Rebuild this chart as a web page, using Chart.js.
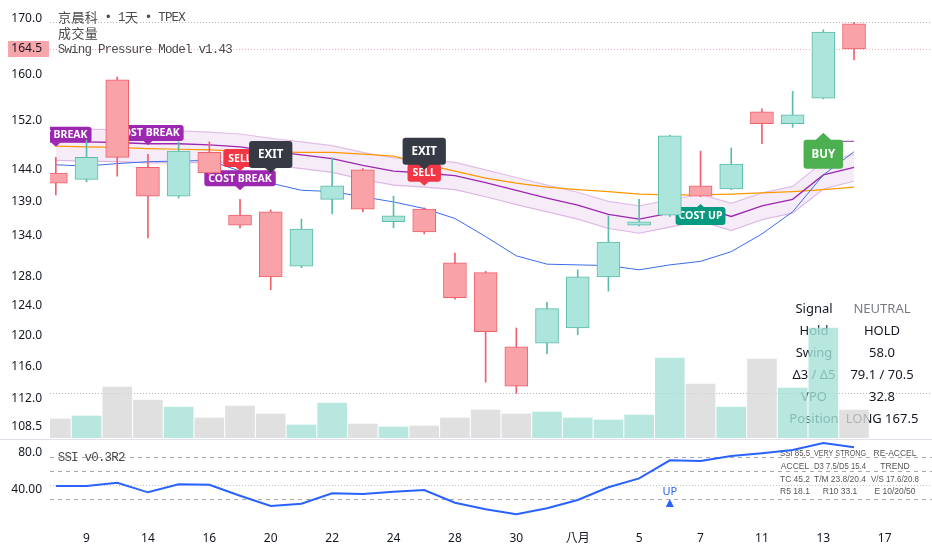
<!DOCTYPE html>
<html>
<head>
<meta charset="utf-8">
<title>京晨科 Swing Pressure Model</title>
<script src="https://cdn.jsdelivr.net/npm/chart.js@4.4.1/dist/chart.umd.min.js"></script>
<style>
html,body{margin:0;padding:0;background:#fff}
#wrap{position:relative;width:932px;height:550px;overflow:hidden;background:#fff}
canvas{position:absolute;left:0}
#main{top:0}
#ssi{top:440px}
</style>
</head>
<body>
<div id="wrap">
<canvas id="main" width="932" height="440"></canvas>
<canvas id="ssi" width="932" height="110"></canvas>
</div>
<script>

// daily candles, one per slot
let opens=[143.5,142.5,159.0,144.4,139.9,146.8,137.0,137.5,129.5,139.4,144.0,136.0,137.9,130.0,128.6,118.5,119.0,121.0,128.0,135.5,137.0,141.5,141.0,153.5,151.5,155.8,169.1]
let highs=[146.0,148.8,159.5,146.5,148.5,148.5,139.4,137.8,136.4,145.9,144.2,139.9,138.1,131.4,128.8,121.0,124.5,129.0,136.9,139.4,149.6,147.0,147.5,154.0,157.0,168.0,169.4]
let lows=[140.1,142.1,143.0,133.6,139.6,143.2,135.1,126.2,129.3,137.2,137.5,135.1,134.2,124.9,114.0,112.6,117.6,120.1,126.0,135.4,136.8,139.8,140.9,148.2,150.9,155.7,162.5]
let closes=[141.9,146.0,146.0,139.9,147.0,143.5,135.5,128.0,134.9,141.5,137.9,136.9,134.5,125.1,120.5,113.5,123.6,128.0,133.0,136.0,149.5,139.9,144.9,151.5,153.0,167.6,164.5]
let volumes=[1900,2200,5100,3800,3100,2000,3200,2400,1300,3500,1400,1100,1200,2000,2800,2400,2600,2000,1800,2300,8000,5400,3100,7900,5000,11000,2800]

// indicator lines
let costLine=[147.8,147.7,147.6,147.4,147.3,147.2,147.0,146.9,146.8,146.8,146.5,146.2,144.9,143.8,142.7,141.9,141.3,140.9,140.6,140.2,140.1,140.1,140.2,140.4,140.6,140.9,141.3]
let midLine=[148.6,148.5,148.4,148.2,148.2,148.0,147.7,147.0,146.4,145.8,144.7,143.8,143.5,143.1,142.0,140.8,139.6,138.5,137.1,136.4,137.3,138.2,136.8,138.4,139.4,143.2,144.4]
let bandUpper=[150.7,150.6,150.5,150.3,150.3,150.1,149.8,149.1,148.5,147.9,146.8,145.9,145.6,145.2,144.0,142.8,141.6,140.5,139.1,138.4,139.3,140.2,138.8,140.4,141.4,145.3,146.5]
let bandLower=[145.5,145.4,145.3,145.1,145.1,145.2,145.2,144.8,144.2,143.6,142.5,141.6,141.3,140.9,139.8,138.6,137.5,136.4,135.0,134.3,135.2,136.1,134.7,136.3,137.3,141.0,142.2]
let trendLine=[144.8,144.6,145.0,145.3,145.4,145.5,143.8,141.9,140.8,140.6,139.8,139.0,138.0,136.5,133.8,131.0,129.8,129.7,129.6,129.0,129.7,130.2,131.6,134.2,137.5,143.2,146.9]
let stopIdx=[25,26]
let stopLine=[148.6,148.6]

let ssi=[43.9,43.9,47.4,37.1,45.7,45.3,33.5,22.4,24.9,36.1,35.3,37.8,39.6,26.0,18.9,13.5,20.0,28.9,42.5,52.1,71.4,70.7,76.0,78.9,82.5,90.0,85.5]

// axes
let tickIdx=[1,3,5,7,9,11,13,15,17,19,21,23,25,27]
let tickText=['9','14','16','20','22','24','28','30','八月','5','7','11','13','17']
let priceTicks=[170,160,152,144,139,134,128,124,120,116,112,108.5]
let refLines=[169.5,112.6]
let lastPrice=164.5
let ssiTicks=[80,40]
let ssiTickText=['80.0','40.00']
let ssiLevels=[75,60,45,30]

// signal labels
let sigIdx=[0,3,6,6,12,7,12,21,25]
let sigText=['COST BREAK','COST BREAK','COST BREAK','SELL','SELL','EXIT','EXIT','COST UP','BUY']
let sigPrice=[147.7,148.0,140.8,143.8,141.5,143.5,144.0,138.7,150.0]
let sigKind=['cb','cb','cb','sell','sell','exit','exit','up','buy']

let tblLabels=['Signal','Hold','Swing','Δ3 / Δ5','VPO','Position']
let tblValues=['NEUTRAL','HOLD','58.0','79.1 / 70.5','32.8','LONG 167.5']

let ssiInfo=[
['SSI 85.5','VERY STRONG','RE-ACCEL'],
['ACCEL','D3 7.5/D5 15.4','TREND'],
['TC 45.2','T/M 23.8/20.4','V/S 17.6/20.8'],
['R5 18.1','R10 33.1','E 10/20/50']
]
let ssiMarkIdx=[20]
let ssiMarkVal=[25.7]
let ssiMarkText=['UP']

let X_MIN=-0.19
let X_MAX=28.54

let isUp=closes.map((c,i)=>c>=opens[i])

let kinds={
cb:{bg:'#9c27b0',h:16,ptr:4,font:'bold 10.5px "Noto Sans"',pad:4,dir:-1},
sell:{bg:'#f23645',h:18,ptr:4,font:'bold 10.5px "Noto Sans"',pad:5,dir:-1},
exit:{bg:'#363a45',h:27,ptr:5,font:'bold 11.5px "Noto Sans"',pad:9,dir:-1},
up:{bg:'#089981',h:18,ptr:3,font:'bold 10.5px "Noto Sans"',pad:3,dir:1},
buy:{bg:'#4caf50',h:29,ptr:7,font:'bold 11.5px "Noto Sans"',pad:8,dir:1}
}

function pts(arr){
return arr.map((v,i)=>({x:i,y:v}))
}

function drawTag(ctx,x,tipY,text,k){
ctx.font=k.font
let w=ctx.measureText(text).width+k.pad*2
let top=k.dir<0 ? tipY-k.ptr-k.h : tipY+k.ptr
ctx.fillStyle=k.bg
ctx.beginPath()
ctx.roundRect(x-w/2,top,w,k.h,3)
ctx.fill()
ctx.beginPath()
let edge=k.dir<0 ? top+k.h-0.5 : top+0.5
ctx.moveTo(x-k.ptr-1,edge)
ctx.lineTo(x,tipY)
ctx.lineTo(x+k.ptr+1,edge)
ctx.closePath()
ctx.fill()
ctx.fillStyle='#fff'
ctx.textAlign='center'
ctx.textBaseline='middle'
ctx.fillText(text,x,top+k.h/2+0.5)
}

// half width latin, full width CJK, like the original mono font
function drawMixed(ctx,text,x,y){
ctx.textAlign='left'
ctx.textBaseline='middle'
for(let ch of text){
if(/[\u2E80-\u9FFF\uFF00-\uFFEF]/.test(ch)){
ctx.font='13px "Noto Sans CJK TC"'
ctx.fillText(ch,x,y)
x+=13.4
}
else{
ctx.font='12.5px "Liberation Mono"'
ctx.fillText(ch,x-0.3,y+0.5)
x+=6.7
}
}
}

let mainDeco={
id:'mainDeco',
beforeDatasetsDraw(chart){
let {ctx,chartArea:a,scales:{y}}=chart
ctx.save()
ctx.lineWidth=1
ctx.setLineDash([1,2])
ctx.strokeStyle='#b4b4b4'
refLines.forEach(v=>{
let py=Math.round(y.getPixelForValue(v))+0.5
ctx.beginPath();ctx.moveTo(a.left,py);ctx.lineTo(a.right,py);ctx.stroke()
})
ctx.strokeStyle='rgba(242,54,69,0.45)'
let ly=Math.round(y.getPixelForValue(lastPrice))+0.5
ctx.beginPath();ctx.moveTo(a.left,ly);ctx.lineTo(a.right,ly);ctx.stroke()
ctx.setLineDash([])
ctx.font='13px "Noto Sans"'
ctx.textAlign='center'
ctx.textBaseline='middle'
tblLabels.forEach((t,r)=>{
ctx.fillStyle='#131722'
ctx.fillText(t,814,309+r*22)
ctx.fillStyle=r===0?'#787b86':'#131722'
ctx.fillText(tblValues[r],882,309+r*22)
})
ctx.restore()
},
beforeDatasetDraw(chart,args){
if(chart.data.datasets[args.index].label!=='wick') return
let {ctx,chartArea:a,scales:{x,y}}=chart
ctx.save()
ctx.beginPath()
ctx.rect(a.left,a.top,a.right-a.left,a.bottom-a.top)
ctx.clip()
sigIdx.forEach((i,k)=>{
drawTag(ctx,x.getPixelForValue(i),y.getPixelForValue(sigPrice[k]),sigText[k],kinds[sigKind[k]])
})
ctx.restore()
},
afterDraw(chart){
let {ctx,chartArea:a,scales:{y}}=chart
ctx.save()
ctx.fillStyle='#4a4a4a'
drawMixed(ctx,'京晨科 • 1天 • TPEX',58,17)
drawMixed(ctx,'成交量',58,33)
drawMixed(ctx,'Swing Pressure Model v1.43',58,49)
let ly=y.getPixelForValue(lastPrice)
ctx.fillStyle='#f6a5ab'
ctx.fillRect(8,Math.round(ly)-8,41,16)
ctx.fillStyle='#131722'
ctx.font='12px "Noto Sans"'
ctx.textAlign='right'
ctx.textBaseline='middle'
ctx.fillText(lastPrice.toFixed(1),42,ly)
ctx.strokeStyle='#e0e3eb'
ctx.lineWidth=1
ctx.beginPath();ctx.moveTo(0,439.5);ctx.lineTo(932,439.5);ctx.stroke()
ctx.restore()
}
}

let mainChart=new Chart(document.getElementById('main'),{
type:'bar',
data:{
datasets:[
{type:'line',label:'trend',data:pts(trendLine),borderColor:'#3b6cf0',borderWidth:1,pointRadius:0,tension:0,order:5},
{type:'line',label:'mid',data:pts(midLine),borderColor:'#9c27b0',borderWidth:1.3,pointRadius:0,tension:0,order:6},
{type:'line',label:'cost',data:pts(costLine),borderColor:'#ff9800',borderWidth:1.2,pointRadius:0,tension:0,order:7},
{type:'line',label:'upper',data:pts(bandUpper),borderColor:'#e1bee7',borderWidth:1.2,pointRadius:0,tension:0,fill:'+1',backgroundColor:'rgba(156,39,176,0.09)',order:8},
{type:'line',label:'lower',data:pts(bandLower),borderColor:'#e1bee7',borderWidth:1.2,pointRadius:0,tension:0,fill:false,order:9},
{type:'line',label:'stop',data:stopIdx.map((i,k)=>({x:i,y:stopLine[k]})),borderColor:'#8e3a9e',borderWidth:1,pointRadius:0,order:4},
{label:'wick',data:lows.map((l,i)=>({x:i,y:[l,highs[i]]})),backgroundColor:isUp.map(u=>u?'#5cbcaa':'#f0606c'),grouped:false,barPercentage:1,categoryPercentage:1,maxBarThickness:1,order:2},
{label:'body',data:opens.map((o,i)=>({x:i,y:[o,closes[i]]})),backgroundColor:isUp.map(u=>u?'#ace5dc':'#f9a3a9'),borderColor:isUp.map(u=>u?'#5cbcaa':'#f0606c'),borderWidth:1,borderSkipped:false,grouped:false,barPercentage:1,categoryPercentage:1,maxBarThickness:23,order:1},
{label:'vol',yAxisID:'yv',data:volumes.map((v,i)=>({x:i,y:v})),backgroundColor:isUp.map(u=>u?'rgba(165,225,215,0.8)':'rgba(216,216,216,0.8)'),grouped:false,barPercentage:1,categoryPercentage:1,maxBarThickness:29,order:20}
]
},
options:{
responsive:false,
animation:false,
layout:{padding:{left:0,right:0,top:0,bottom:2}},
plugins:{legend:{display:false},tooltip:{enabled:false}},
scales:{
x:{type:'linear',min:X_MIN,max:X_MAX,offset:false,display:false,grid:{display:false}},
y:{
type:'logarithmic',position:'left',min:107.2,max:173.6,bounds:'data',
grid:{display:false,drawTicks:false},border:{display:false},
afterBuildTicks:s=>{s.ticks=priceTicks.map(v=>({value:v}))},
afterFit:s=>{s.width=50;s.paddingTop=0;s.paddingBottom=0},
ticks:{autoSkip:false,padding:8,color:'#131722',font:{family:'"Noto Sans"',size:12},callback:v=>Number(v).toFixed(1)}
},
yv:{type:'linear',display:false,min:0,max:43800}
}
},
plugins:[mainDeco]
})

let ssiDeco={
id:'ssiDeco',
beforeDatasetsDraw(chart){
let {ctx,chartArea:a,scales:{y}}=chart
ctx.save()
ctx.lineWidth=1
ssiLevels.forEach(v=>{
let py=Math.round(y.getPixelForValue(v))+0.5
ctx.setLineDash(v===45?[1,2]:[4,4])
ctx.strokeStyle=v===45?'#c4c4c4':'#a8a8a8'
ctx.beginPath();ctx.moveTo(a.left,py);ctx.lineTo(a.right,py);ctx.stroke()
})
ctx.setLineDash([])
ctx.fillStyle='#4a4a4a'
drawMixed(ctx,'SSI v0.3R2',58,y.getPixelForValue(75))
ctx.fillStyle='#555'
ctx.font='8.5px "Liberation Sans"'
ctx.textAlign='center'
ctx.textBaseline='middle'
let cols=[795,840,895]
let widths=[30,52,48]
ssiInfo.forEach((row,r)=>{
row.forEach((t,c)=>{
ctx.fillText(t,cols[c],14+r*12.7,widths[c])
})
})
ctx.restore()
},
afterDatasetsDraw(chart){
let {ctx,scales:{x,y}}=chart
ctx.save()
ctx.fillStyle='#2962ff'
ssiMarkIdx.forEach((i,k)=>{
let px=x.getPixelForValue(i)
let py=y.getPixelForValue(ssiMarkVal[k])
ctx.beginPath()
ctx.moveTo(px-4,py+4);ctx.lineTo(px,py-4);ctx.lineTo(px+4,py+4);ctx.closePath()
ctx.fill()
ctx.font='11px "Noto Sans"'
ctx.textAlign='center'
ctx.textBaseline='middle'
ctx.fillText(ssiMarkText[k],px,py-11)
})
ctx.restore()
}
}

let ssiChart=new Chart(document.getElementById('ssi'),{
type:'line',
data:{
datasets:[
{label:'SSI',data:pts(ssi),borderColor:'#2962ff',borderWidth:2,pointRadius:0,tension:0}
]
},
options:{
responsive:false,
animation:false,
layout:{padding:0},
plugins:{legend:{display:false},tooltip:{enabled:false}},
scales:{
x:{
type:'linear',min:X_MIN,max:X_MAX,offset:false,
grid:{display:false,drawTicks:false},border:{display:false},
afterBuildTicks:s=>{s.ticks=tickIdx.map(v=>({value:v}))},
afterFit:s=>{s.height=28;s.paddingLeft=0;s.paddingRight=0},
ticks:{autoSkip:false,maxRotation:0,padding:9,color:'#131722',font:{family:'"Noto Sans", "Noto Sans CJK TC"',size:12},callback:v=>tickText[tickIdx.indexOf(v)]}
},
y:{
min:5.3,max:93.2,position:'left',
grid:{display:false,drawTicks:false},border:{display:false},
afterBuildTicks:s=>{s.ticks=ssiTicks.map(v=>({value:v}))},
afterFit:s=>{s.width=50;s.paddingTop=0;s.paddingBottom=0},
ticks:{autoSkip:false,padding:8,color:'#131722',font:{family:'"Noto Sans"',size:12},callback:v=>ssiTickText[ssiTicks.indexOf(v)]}
}
}
},
plugins:[ssiDeco]
})

</script>
</body>
</html>
